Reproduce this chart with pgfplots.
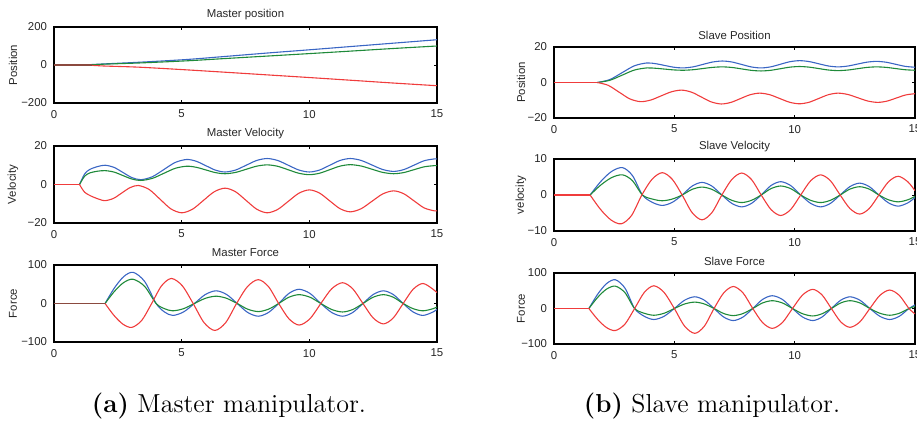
\documentclass[border=0pt]{standalone}
\usepackage{fontspec}
\usepackage{pgfplots}
\pgfplotsset{compat=1.18}
\newfontfamily\hel{Liberation Sans}
\definecolor{cb}{HTML}{3A66C4}
\definecolor{cg}{HTML}{1F8A3A}
\definecolor{cr}{HTML}{F03C3C}
\definecolor{cbr}{HTML}{8B4A3F}
\definecolor{txt}{HTML}{262626}
\newcommand\tfont{\hel\fontsize{5.7}{6.8}\selectfont}

\pgfplotsset{
  base/.style={scale only axis, xmin=0, xmax=15,
    xtick={0,5,10,15}, xticklabels={0,5,10,15},
    axis line style={line width=0.55pt, black},
    major tick length=1.6pt, tick style={line width=0.45pt, black},
    font=\tfont, tick label style={font=\tfont, text=txt},
    title style={font=\tfont, text=txt, anchor=center},
    every axis plot/.append style={line width=0.55pt, smooth},
  },
  lefty/.style={every axis y label/.style={at={(rel axis cs:0,0.5)}, xshift=-20.5pt, rotate=90, anchor=center, font=\tfont, text=txt}},
  righty/.style={every axis y label/.style={at={(rel axis cs:0,0.5)}, xshift=-16.5pt, rotate=90, anchor=center, font=\tfont, text=txt}},
}

\begin{document}
\begin{tikzpicture}
% ---------------- master manipulator ----------------
\begin{axis}[base, lefty, at={(27pt,-13.5pt)}, anchor=north west, width=191.5pt, height=38pt,
  ymin=-200, ymax=200, ytick={-200,0,200}, yticklabels={−200,0,200},
  title={Master position}, ylabel={Position}]
\addplot[cb] coordinates {(1,0)(1.5,2.5)(2,6)(3.4,15)(5.2,29)(6.7,45)(8.35,63)(10,80)(11.6,97)(13.3,115)(15,133)};
\addplot[cg] coordinates {(1,0)(1.5,1.5)(2,4.6)(3.4,11)(5.2,22)(6.7,34)(8.35,47)(10,60)(11.6,73)(13.3,87)(15,100)};
\addplot[cr] coordinates {(1,0)(1.5,-2)(2,-5.5)(3.3,-11.3)(5,-24)(6.7,-38)(8.35,-52)(10,-66)(11.6,-80)(13.3,-95)(15,-109)};
\addplot[cbr, sharp plot] coordinates {(0,0)(1.5,0)};
\end{axis}

\begin{axis}[base, lefty, at={(27pt,-73pt)}, anchor=north west, width=191.5pt, height=38.5pt,
  ymin=-20, ymax=20, ytick={-20,0,20}, yticklabels={−20,0,20},
  title={Master Velocity}, ylabel={Velocity}]
\addplot[cb] coordinates {(1,0)(1.2,5.5)(1.4,7.8)(1.7,9.3)(2,10)(2.35,8.9)(2.7,6.25)(3.05,3.6)(3.4,2.5)(3.85,4.03)(4.3,7.75)(4.75,11.47)(5.2,13)(5.575,12.05)(5.95,9.75)(6.325,7.45)(6.7,6.5)(7.1125,7.52)(7.525,10)(7.9375,12.48)(8.35,13.5)(8.76,12.48)(9.175,10)(9.59,7.52)(10,6.5)(10.4,7.52)(10.8,10)(11.2,12.48)(11.6,13.5)(12.025,12.52)(12.45,10.15)(12.875,7.78)(13.3,6.8)(13.7,7.75)(14.1,10.05)(14.5,12.35)(14.9,13.3)(15,13.2)};
\addplot[cg] coordinates {(1,0)(1.2,4.3)(1.4,6)(1.7,6.9)(2,7.2)(2.35,6.46)(2.7,4.65)(3.05,2.84)(3.4,2.1)(3.85,3.18)(4.3,5.8)(4.75,8.42)(5.2,9.5)(5.575,8.93)(5.95,7.55)(6.325,6.17)(6.7,5.6)(7.11,6.27)(7.525,7.9)(7.94,9.53)(8.35,10.2)(8.76,9.46)(9.175,7.65)(9.59,5.84)(10,5.1)(10.4,5.86)(10.8,7.7)(11.2,9.54)(11.6,10.3)(12.025,9.61)(12.45,7.95)(12.875,6.29)(13.3,5.6)(13.7,6.21)(14.1,7.7)(14.5,9.19)(14.9,9.8)(15,9.75)};
\addplot[cr] coordinates {(1,0)(1.2,-4)(1.5,-6.3)(1.8,-7.8)(2,-8.4)(2.325,-7.25)(2.65,-4.45)(2.975,-1.65)(3.3,-0.5)(3.725,-2.57)(4.15,-7.6)(4.575,-12.63)(5,-14.7)(5.425,-12.83)(5.85,-8.3)(6.275,-3.77)(6.7,-1.9)(7.11,-3.77)(7.525,-8.3)(7.94,-12.83)(8.35,-14.7)(8.76,-12.96)(9.175,-8.75)(9.59,-4.54)(10,-2.8)(10.4,-4.46)(10.8,-8.5)(11.2,-12.54)(11.6,-14.2)(12.025,-12.61)(12.45,-8.75)(12.875,-4.89)(13.3,-3.3)(13.7,-4.82)(14.1,-8.5)(14.5,-12.18)(14.9,-13.7)(15,-13.6)};
\addplot[cr, sharp plot] coordinates {(0,0)(1,0)};
\end{axis}

\begin{axis}[base, lefty, at={(27pt,-132.5pt)}, anchor=north west, width=191.5pt, height=38.5pt,
  ymin=-100, ymax=100, ytick={-100,0,100}, yticklabels={−100,0,100},
  title={Master Force}, ylabel={Force}]
\addplot[cb] coordinates {(2,0)(2.367,40.5)(2.733,70.1)(3.1,81)(3.55,57.3)(4.0,0)(4.325,-21.9)(4.65,-31)(5.075,-21.9)(5.5,0)(5.925,23.3)(6.35,33)(6.7625,23.3)(7.175,0)(7.5875,-23.3)(8.0,-33)(8.4,-23.3)(8.8,0)(9.2,26.2)(9.6,37)(10.025,26.2)(10.45,0)(10.875,-23.3)(11.3,-33)(11.7,-23.3)(12.1,0)(12.5,23.3)(12.9,33)(13.2875,23.3)(13.675,0)(14.0625,-21.9)(14.45,-31)(14.85,-21.9)(15,-15)};
\addplot[cg] coordinates {(2,0)(2.367,31.5)(2.733,54.6)(3.1,63)(3.55,44.5)(4.0,0)(4.325,-13.4)(4.65,-19)(5.075,-13.4)(5.5,0)(5.925,13.4)(6.35,19)(6.7625,13.4)(7.175,0)(7.5875,-14.8)(8.0,-21)(8.4,-14.8)(8.8,0)(9.2,16.3)(9.6,23)(10.025,16.3)(10.45,0)(10.875,-15.6)(11.3,-22)(11.7,-15.6)(12.1,0)(12.5,16.3)(12.9,23)(13.2875,16.3)(13.675,0)(14.0625,-13.4)(14.45,-19)(14.85,-13.4)(15,-9)};
\addplot[cr] coordinates {(2,0)(2.35,-31)(2.7,-53.7)(3.05,-62)(3.4375,-43.8)(3.825,0)(4.2125,46)(4.6,65)(5.025,46)(5.45,0)(5.875,-49.5)(6.3,-70)(6.725,-49.5)(7.15,0)(7.575,43.8)(8.0,62)(8.4,43.8)(8.8,0)(9.2,-39.6)(9.6,-56)(10.025,-39.6)(10.45,0)(10.875,38.2)(11.3,54)(11.7,38.2)(12.1,0)(12.5,-37.5)(12.9,-53)(13.2875,-37.5)(13.675,0)(14.0625,36.8)(14.45,52)(14.85,36.8)(15,28)};
\addplot[cbr, sharp plot] coordinates {(0,0)(2,0)};
\end{axis}

% ---------------- slave manipulator ----------------
\begin{axis}[base, righty, at={(277pt,-23.5pt)}, anchor=north west, width=180.5pt, height=35.5pt,
  ymin=-20, ymax=20, ytick={-20,0,20}, yticklabels={−20,0,20},
  title={Slave Position}, ylabel={Position}]
\addplot[cb] coordinates {(1.8,0)(2.3125,1.61)(2.825,5.5)(3.3375,9.39)(3.85,11)(4.225,10.59)(4.6,9.6)(4.975,8.61)(5.35,8.2)(5.7625,8.77)(6.175,10.15)(6.5875,11.53)(7.0,12.1)(7.4,11.53)(7.8,10.15)(8.2,8.77)(8.6,8.2)(9.0,8.8)(9.4,10.25)(9.8,11.7)(10.2,12.3)(10.6,11.79)(11.0,10.55)(11.4,9.31)(11.8,8.8)(12.2,9.25)(12.6,10.35)(13.0,11.45)(13.4,11.9)(13.8,11.42)(14.2,10.25)(14.6,9.08)(15,8.6)};
\addplot[cg] coordinates {(1.8,0)(2.3125,1.2)(2.825,4.1)(3.3375,7.0)(3.85,8.2)(4.225,8.01)(4.6,7.55)(4.975,7.09)(5.35,6.9)(5.7625,7.18)(6.175,7.85)(6.5875,8.52)(7.0,8.8)(7.4,8.46)(7.8,7.65)(8.2,6.84)(8.6,6.5)(9.0,6.86)(9.4,7.75)(9.8,8.64)(10.2,9.0)(10.6,8.66)(11.0,7.85)(11.4,7.04)(11.8,6.7)(12.2,7.01)(12.6,7.75)(13.0,8.49)(13.4,8.8)(13.8,8.52)(14.2,7.85)(14.6,7.18)(15,6.9)};
\addplot[cr] coordinates {(1.8,0)(2.25,-1.58)(2.7,-5.4)(3.15,-9.22)(3.6,-10.8)(4.025,-9.85)(4.45,-7.55)(4.875,-5.25)(5.3,-4.3)(5.7125,-5.44)(6.125,-8.2)(6.5375,-10.96)(6.95,-12.1)(7.35,-11.21)(7.75,-9.05)(8.15,-6.89)(8.55,-6)(8.9625,-6.88)(9.375,-9)(9.7875,-11.12)(10.2,-12)(10.6,-11.12)(11.0,-9)(11.4,-6.88)(11.8,-6)(12.2125,-6.76)(12.625,-8.6)(13.0375,-10.44)(13.45,-11.2)(13.8375,-10.48)(14.225,-8.75)(14.6125,-7.02)(15,-6.3)};
\addplot[cr, sharp plot] coordinates {(0,0)(1.8,0)};
\end{axis}

\begin{axis}[base, righty, at={(277pt,-79.5pt)}, anchor=north west, width=180.5pt, height=36pt,
  ymin=-10, ymax=10, ytick={-10,0,10}, yticklabels={−10,0,10},
  title={Slave Velocity}, ylabel={velocity}]
\addplot[cb] coordinates {(1.5,0)(1.95,3.8)(2.4,6.58)(2.85,7.6)(3.2625,5.37)(3.675,0)(4.0875,-2.05)(4.5,-2.9)(4.9125,-2.05)(5.325,0)(5.7375,2.47)(6.15,3.5)(6.5625,2.47)(6.975,0)(7.3875,-2.33)(7.8,-3.3)(8.205,-2.33)(8.61,0)(9.015,2.62)(9.42,3.7)(9.835,2.62)(10.25,0)(10.665,-2.33)(11.08,-3.3)(11.485,-2.33)(11.89,0)(12.295,2.33)(12.7,3.3)(13.1,2.33)(13.5,0)(13.9,-2.19)(14.3,-3.1)(14.7,-2.19)(15,-0.7)};
\addplot[cg] coordinates {(1.5,0)(1.95,2.8)(2.4,4.85)(2.85,5.6)(3.2625,3.96)(3.675,0)(4.0875,-1.13)(4.5,-1.6)(4.9125,-1.13)(5.325,0)(5.7375,1.56)(6.15,2.2)(6.5625,1.56)(6.975,0)(7.3875,-1.48)(7.8,-2.1)(8.205,-1.48)(8.61,0)(9.015,1.77)(9.42,2.5)(9.835,1.77)(10.25,0)(10.665,-1.48)(11.08,-2.1)(11.485,-1.48)(11.89,0)(12.295,1.63)(12.7,2.3)(13.1,1.63)(13.5,0)(13.9,-1.34)(14.3,-1.9)(14.7,-1.34)(15,-0.4)};
\addplot[cr] coordinates {(1.5,0)(1.933,-4)(2.367,-6.93)(2.8,-8)(3.225,-5.66)(3.65,0)(4.075,4.38)(4.5,6.2)(4.9125,4.38)(5.325,0)(5.7375,-4.88)(6.15,-6.9)(6.5625,-4.88)(6.975,0)(7.3875,4.31)(7.8,6.1)(8.205,4.31)(8.61,0)(9.015,-4.03)(9.42,-5.7)(9.835,-4.03)(10.25,0)(10.665,3.96)(11.08,5.6)(11.485,3.96)(11.89,0)(12.295,-3.75)(12.7,-5.3)(13.1,-3.75)(13.5,0)(13.9,3.68)(14.3,5.2)(14.7,3.68)(15,1.2)};
\addplot[cr, sharp plot] coordinates {(0,0)(1.5,0)};
\end{axis}

\begin{axis}[base, righty, at={(277pt,-136.5pt)}, anchor=north west, width=180.5pt, height=35.5pt,
  ymin=-100, ymax=100, ytick={-100,0,100}, yticklabels={−100,0,100},
  title={Slave Force}, ylabel={Force}]
\addplot[cb] coordinates {(1.45,0)(1.817,40.5)(2.183,70.1)(2.55,81)(2.95,57.3)(3.35,0)(3.75,-21.9)(4.15,-31)(4.575,-21.9)(5.0,0)(5.425,23.3)(5.85,33)(6.25,23.3)(6.65,0)(7.05,-24)(7.45,-34)(7.855,-24)(8.26,0)(8.665,25.5)(9.07,36)(9.49,25.5)(9.91,0)(10.33,-24)(10.75,-34)(11.1375,-24)(11.525,0)(11.9125,23.3)(12.3,33)(12.7125,23.3)(13.125,0)(13.5375,-21.9)(13.95,-31)(14.35,-21.9)(14.75,0)(15,10)};
\addplot[cg] coordinates {(1.45,0)(1.817,31.5)(2.183,54.6)(2.55,63)(2.95,44.5)(3.35,0)(3.75,-13.4)(4.15,-19)(4.575,-13.4)(5.0,0)(5.425,12.7)(5.85,18)(6.25,12.7)(6.65,0)(7.05,-14.1)(7.45,-20)(7.855,-14.1)(8.26,0)(8.665,15.6)(9.07,22)(9.49,15.6)(9.91,0)(10.33,-14.8)(10.75,-21)(11.1375,-14.8)(11.525,0)(11.9125,15.6)(12.3,22)(12.7125,15.6)(13.125,0)(13.5375,-13.4)(13.95,-19)(14.35,-13.4)(14.75,0)(15,6)};
\addplot[cr] coordinates {(1.45,0)(1.817,-31)(2.183,-53.7)(2.55,-62)(2.95,-43.8)(3.35,0)(3.75,45.2)(4.15,64)(4.575,45.2)(5.0,0)(5.425,-49.5)(5.85,-70)(6.25,-49.5)(6.65,0)(7.05,43.8)(7.45,62)(7.855,43.8)(8.26,0)(8.665,-39.6)(9.07,-56)(9.49,-39.6)(9.91,0)(10.33,38.2)(10.75,54)(11.1375,38.2)(11.525,0)(11.9125,-37.5)(12.3,-53)(12.7125,-37.5)(13.125,0)(13.5375,36.8)(13.95,52)(14.35,36.8)(14.75,0)(15,-15)};
\addplot[cr, sharp plot] coordinates {(0,0)(1.45,0)};
\end{axis}

\node[font=\fontsize{13}{15}\selectfont] at (114.5pt,-203pt) {\textbf{(a)} Master manipulator.};
\node[font=\fontsize{13}{15}\selectfont] at (356pt,-203pt) {\textbf{(b)} Slave manipulator.};

\pgfresetboundingbox
\path[use as bounding box] (0,0) rectangle (458.5pt,-214pt);
\end{tikzpicture}
\end{document}
